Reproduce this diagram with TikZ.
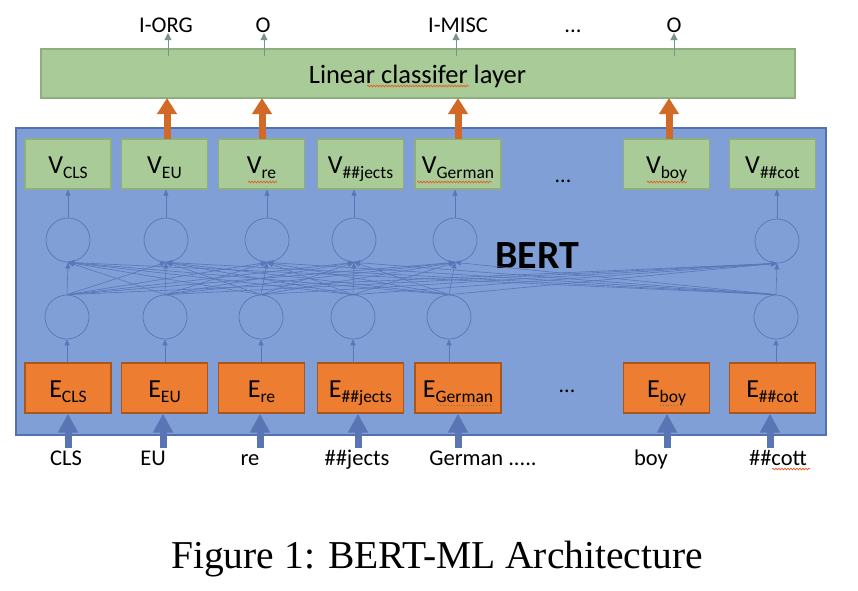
\documentclass[tikz,border=0pt]{standalone}
\usepackage{fontspec}
\setmainfont{Carlito}
\newfontfamily\capfont{Liberation Serif}
\usetikzlibrary{arrows.meta,decorations.pathmorphing}
\definecolor{lingreen}{HTML}{A9CB97}
\definecolor{linedge}{HTML}{8FAE80}
\definecolor{bertblue}{HTML}{7F9FD6}
\definecolor{bertedge}{HTML}{5470B0}
\definecolor{embor}{HTML}{ED7D31}
\definecolor{embedge}{HTML}{A9571F}
\definecolor{arrorange}{HTML}{D06A26}
\definecolor{arrblue}{HTML}{5975B4}
\definecolor{netline}{HTML}{5B76B8}
\definecolor{outarrow}{HTML}{7A9488}
\definecolor{squig}{HTML}{E0602A}
\newcommand\tok[2]{#1\raisebox{-4.5pt}{\fontsize{17.5}{17.5}\selectfont #2}}
\tikzset{
  vbox/.style={draw=linedge, line width=1.2pt, fill=lingreen, minimum width=86pt, minimum height=50pt, inner sep=0pt, text height=19pt, text depth=0pt, font=\fontsize{26}{26}\selectfont},
  ebox/.style={vbox, draw=embedge, fill=embor},
  neuron/.style={circle, draw=netline, line width=0.7pt, minimum size=44pt, inner sep=0pt},
  net/.style={draw=netline, line width=0.6pt, -{Triangle[length=6pt,width=5pt]}},
  orarrow/.style={draw=arrorange, line width=7pt, -{Triangle[length=16pt,width=19pt]}},
  inarrow/.style={draw=arrblue, line width=7pt, -{Triangle[length=19pt,width=19pt]}},
  outarr/.style={draw=outarrow, line width=1pt, -{Triangle[length=7pt,width=7pt]}},
  lab/.style={anchor=base, inner sep=0pt, font=\fontsize{22.5}{22.5}\selectfont},
  wavy/.style={draw=squig, line width=0.7pt, decorate, decoration={snake, amplitude=0.9pt, segment length=3pt}},
}
\begin{document}
\begin{tikzpicture}[x=1pt,y=-1pt]
\useasboundingbox (0,0) rectangle (858,590);
\fill[white] (0,0) rectangle (858,590);
% BERT container
\node[draw=bertedge, line width=1.8pt, fill=bertblue, minimum width=810pt, minimum height=307pt, inner sep=0pt] (bert) at (421,281.5) {};
% linear classifier
\node[draw=linedge, line width=1.2pt, fill=lingreen, minimum width=754pt, minimum height=49pt, inner sep=0pt] (lin) at (418,73.5) {};
\node[anchor=base, inner sep=0pt, font=\fontsize{26.5}{26.5}\selectfont] (lintxt) at (417.5,83) {Linear classifer layer};
% V boxes
\node[vbox] (V1) at (68,164) {\tok{V}{CLS}};
\node[vbox] (V2) at (164.5,164) {\tok{V}{EU}};
\node[vbox] (V3) at (261.5,164) {\tok{V}{re}};
\node[vbox] (V4) at (360.5,164) {\tok{V}{\#\#jects}};
\node[vbox] (V5) at (458,164) {\tok{V}{German}};
\node[vbox] (V6) at (666.5,164) {\tok{V}{boy}};
\node[vbox] (V7) at (772.5,164) {\tok{V}{\#\#cot}};
\node[anchor=base, inner sep=0pt, font=\fontsize{22}{22}\selectfont] (vdots) at (563,182) {...};
% E boxes
\node[ebox] (E1) at (68,388) {\tok{E}{CLS}};
\node[ebox] (E2) at (164.5,388) {\tok{E}{EU}};
\node[ebox] (E3) at (261.5,388) {\tok{E}{re}};
\node[ebox] (E4) at (360.5,388) {\tok{E}{\#\#jects}};
\node[ebox] (E5) at (458,388) {\tok{E}{German}};
\node[ebox] (E6) at (666.5,388) {\tok{E}{boy}};
\node[ebox] (E7) at (772.5,388) {\tok{E}{\#\#cot}};
\node[anchor=base, inner sep=0pt, font=\fontsize{22}{22}\selectfont] (edots) at (567,392) {...};
% neurons
\node[neuron] (u1) at (68,240) {};
\node[neuron] (u2) at (166,240) {};
\node[neuron] (u3) at (267,240) {};
\node[neuron] (u4) at (354,240) {};
\node[neuron] (u5) at (455,240) {};
\node[neuron] (u6) at (777,241) {};
\node[neuron] (l1) at (67,317) {};
\node[neuron] (l2) at (165,317) {};
\node[neuron] (l3) at (261,317) {};
\node[neuron] (l4) at (353,317) {};
\node[neuron] (l5) at (449,317) {};
\node[neuron] (l6) at (776,317) {};
\node[anchor=base, inner sep=0pt, font=\bfseries\fontsize{40}{40}\selectfont] (berttxt) at (537,268.5) {BERT};
% connections inside BERT
\foreach \c/\e in {1/1,2/2,3/3,4/4,5/5,6/7}{
  \draw[net] (l\c.south |- E\e.north) -- (l\c.south);
  \draw[net] (u\c.north) -- (u\c.north |- V\e.south);
}
\foreach \i in {1,...,6}{
  \foreach \j in {1,...,6}{
    \draw[net] (l\i.north) -- (u\j.south);
  }
}
% orange arrows to classifier
\foreach \k/\x in {2/167,3/262,5/458,6/669}{
  \draw[orarrow] (\x,139) -- (\x,98);
}
% outputs
\node[lab] (o1) at (166,32) {I-ORG};
\node[lab] (o2) at (263,32) {O};
\node[lab] (o3) at (458,32) {I-MISC};
\node[lab] (o4) at (573,32) {...};
\node[lab] (o5) at (674,32) {O};
\foreach \n/\x in {1/168,2/264,3/456,5/674}{
  \coordinate (ot\n) at (\x,56);
  \coordinate (oh\n) at (\x,33);
  \draw[outarr] (ot\n) -- (oh\n);
}
% inputs
\node[lab] (i1) at (66,465) {CLS};
\node[lab] (i2) at (153,465) {EU};
\node[lab] (i3) at (250,465) {re};
\node[lab] (i4) at (357,465) {\#\#jects};
\node[lab] (i5) at (483,465) {German .....};
\node[lab] (i6) at (651,465) {boy};
\node[lab] (i7) at (778,465) {\#\#cott};
\foreach \e/\x in {1/68,2/163,3/260,4/358,5/458,6/667,7/770}{
  \coordinate (it\e) at (\x,448);
  \draw[inarrow] (it\e) -- (it\e |- E\e.south);
}
% spell-check squiggles
\draw[wavy] (367,86) -- (469,86);
\draw[wavy] (248,182) -- (277,182);
\draw[wavy] (417,182) -- (492,182);
\draw[wavy] (647,182) -- (687,182);
\draw[wavy] (772,469) -- (810,469);
\draw[draw=linedge!70!black, line width=0.8pt, dotted] (437,405) -- (492,405);
\draw[draw=linedge!70!black, line width=0.8pt, dotted] (660,405) -- (685,405);
% caption
\node[anchor=base, inner sep=0pt, font=\capfont\fontsize{39.5}{39.5}\selectfont] (cap) at (437,568) {Figure 1: BERT-ML Architecture};
\end{tikzpicture}
\end{document}
